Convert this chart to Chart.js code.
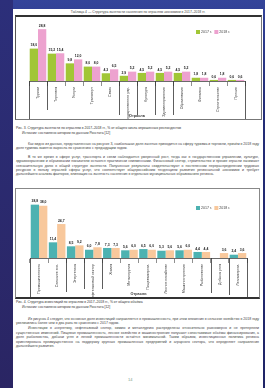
<!DOCTYPE html>
<html lang="ru">
<head>
<meta charset="utf-8">
<script src="https://cdn.jsdelivr.net/npm/chart.js@4.4.0/dist/chart.umd.min.js"></script>
<style>
html, body { margin: 0; padding: 0; width: 265px; height: 388px; overflow: hidden; }
body {
    position: relative;
    background: linear-gradient(180deg, #34449a 0%, #242d78 25%, #1f2466 100%);
    font-family: "Liberation Sans", Arial, sans-serif;
}
.strip { position: absolute; left: 0; top: 0; width: 13px; height: 388px; background: linear-gradient(180deg, #2c2f7a, #2a2563); }
.page { position: absolute; left: 13px; top: 9px; width: 250px; height: 379px; background: #fff; }
.head { position: absolute; left: 0; top: 0.5px; width: 250px; text-align: center; font-size: 3.4px; color: #444; white-space: nowrap; }
.box { position: absolute; background: #fff; }
.box canvas { display: block; }
#box1 { left: 2px; top: 6px; border: 1px solid #777; border-top: 2px solid #333; border-left: 1px solid #555; }
#box2 { left: 2px; top: 179px; border: 1px solid #888; border-bottom: 2px solid #333; }
.cap { position: absolute; left: 3px; font-size: 3.4px; line-height: 4.4px; color: #333; white-space: nowrap; }
.par { position: absolute; left: 3px; width: 243px; font-size: 3.5px; line-height: 4.4px; color: #444; text-align: justify; }
.par p { margin: 0; text-indent: 12px; }
.pnum { position: absolute; left: 115px; top: 368px; font-size: 4px; color: #7a9a8a; }
</style>
</head>
<body>
<div class="strip"></div>
<div class="page">
    <div class="head">Таблица 4 — Структура занятости населения по отраслям экономики в 2017–2018 гг.</div>

    <div class="box" id="box1"><canvas id="chart1" width="245" height="102"></canvas></div>

    <div class="cap" style="top:117px">Рис. 3. Структура занятости по отраслям в 2017–2018 гг., % от общего числа опрошенных респондентов</div>
    <div class="cap" style="top:121.5px; left:9px">Источник: составлено автором по данным Росстата [12]</div>

    <div class="par" style="top:133px">
        <p>Как видно из данных, представленных на рисунке 3, наибольшая доля занятых приходится на сферу туризма и торговли, причём в 2018 году доля туризма заметно выросла по сравнению с предыдущим годом.</p>
        <p style="margin-top:4px">В то же время в сфере услуг, транспорта и связи наблюдается умеренный рост, тогда как в государственном управлении, культуре, здравоохранении и образовании показатели остаются практически неизменными. Финансовый сектор, строительство и прочие отрасли занимают незначительную долю в общей структуре занятости. Полученные результаты свидетельствуют о постепенном перераспределении трудовых ресурсов в пользу отраслей сферы услуг, что соответствует общероссийским тенденциям развития региональной экономики и требует дальнейшего анализа факторов, влияющих на занятость населения в отдельных муниципальных образованиях региона.</p>
    </div>

    <div class="box" id="box2"><canvas id="chart2" width="243" height="108"></canvas></div>

    <div class="cap" style="top:291px">Рис. 4. Структура инвестиций по отраслям в 2017–2018 гг., % от общего объёма</div>
    <div class="cap" style="top:295.5px; left:9px">Источник: составлено автором по данным Росстата [12]</div>

    <div class="par" style="top:308px">
        <p>Из рисунка 4 следует, что основная доля инвестиций направляется в промышленность, при этом вложения в сельское хозяйство в 2018 году увеличились более чем в два раза по сравнению с 2017 годом.</p>
        <p style="margin-top:0.5px">Инвестиции в энергетику, нефтегазовый сектор, химию и металлургию распределены относительно равномерно и не претерпели существенных изменений. Пищевая промышленность, лесное хозяйство и машиностроение получают сопоставимые объёмы финансирования, а доля рыболовства, добычи угля и легкой промышленности остаётся минимальной. Таким образом, инвестиционная политика региона ориентирована преимущественно на поддержку крупных промышленных предприятий и аграрного сектора, что определяет направления дальнейшего развития.</p>
    </div>

    <div class="pnum">14</div>
</div>

<script>
// рис. 3
const labels1 = ['Туризм', 'Торговля', 'Услуги', 'Транспорт', 'Связь', 'Государственное упр.',
    'Культура', 'Здравоохранение', 'Образование', 'Финансы', 'Строительство', 'Прочие'];
const year2017a = [18.0, 15.2, 9.8, 8.0, 4.3, 2.9, 4.5, 4.5, 4.5, 1.8, 0.6, 0.6];
const year2018a = [28.8, 15.4, 12.0, 8.0, 6.5, 5.2, 5.2, 5.2, 5.2, 1.8, 1.8, 0.6];

// рис. 4
const labels2 = ['Промышленность', 'Сельское хоз.', 'Энергетика', 'Нефтегазовый сектор', 'Химия',
    'Металлургия', 'Пищевая пром.', 'Лесное хозяйство', 'Машиностроение', 'Рыболовство', 'Добыча угля', 'Легкая пром.'];
const year2017b = [38.8, 11.4, 8.5, 6.0, 7.3, 5.6, 6.5, 5.3, 5.6, 4.4, null, 2.4];
const year2018b = [38.0, 24.7, 9.2, 7.8, 7.3, 6.0, 6.0, 5.6, 6.0, 4.4, 3.6, 3.6];

const seriesNames = ['2017 г.', '2018 г.'];

// value labels above the bars
const valueLabels = {
    id: 'valueLabels',
    afterDatasetsDraw(chart) {
        const ctx = chart.ctx;
        ctx.save();
        ctx.font = 'bold 3.4px "Liberation Sans", Arial';
        ctx.fillStyle = '#222';
        ctx.textAlign = 'center';
        ctx.textBaseline = 'bottom';
        chart.data.datasets.forEach((ds, i) => {
            chart.getDatasetMeta(i).data.forEach((bar, j) => {
                const v = ds.data[j];
                if (v == null) return;
                ctx.fillText(v.toFixed(1).replace('.', ','), bar.x, bar.y - 1.5);
            });
        });
        ctx.restore();
    }
};

// long separator lines under the category axis
const groupLines = {
    id: 'groupLines',
    afterDraw(chart, args, opts) {
        const x = chart.scales.x;
        const ctx = chart.ctx;
        ctx.save();
        ctx.strokeStyle = '#333';
        ctx.lineWidth = 0.8;
        opts.lines.forEach(([b, len]) => {
            const px = Math.round(x.getPixelForValue(b - 0.5)) + 0.5;
            ctx.beginPath();
            ctx.moveTo(px, x.top);
            ctx.lineTo(px, x.top + len);
            ctx.stroke();
        });
        ctx.restore();
    }
};

// legend inside the plot, top right (items come from the chart's own legend)
const insideLegend = {
    id: 'insideLegend',
    afterDraw(chart, args, opts) {
        const items = chart.options.plugins.legend.labels.generateLabels(chart);
        const ctx = chart.ctx;
        ctx.save();
        ctx.font = '3.6px "Liberation Sans", Arial';
        ctx.textBaseline = 'middle';
        let x = opts.x;
        items.forEach(item => {
            ctx.fillStyle = item.fillStyle;
            ctx.fillRect(x, opts.y - 2, 4, 4);
            x += 5;
            ctx.fillStyle = '#444';
            ctx.fillText(item.text, x, opts.y);
            x += ctx.measureText(item.text).width + 2.5;
        });
        ctx.restore();
    }
};

function makeChart(id, labels, a, b, colors, pad, axisHeight, yMax, lines, legendPos) {
    return new Chart(document.getElementById(id), {
        type: 'bar',
        data: {
            labels: labels,
            datasets: [
                { label: seriesNames[0], data: a, backgroundColor: colors[0], barPercentage: 1.0, categoryPercentage: 0.92 },
                { label: seriesNames[1], data: b, backgroundColor: colors[1], barPercentage: 1.0, categoryPercentage: 0.92 }
            ]
        },
        options: {
            responsive: false,
            animation: false,
            devicePixelRatio: 1,
            layout: { padding: pad },
            plugins: {
                legend: { display: false },
                tooltip: { enabled: false },
                groupLines: { lines: lines },
                insideLegend: legendPos
            },
            scales: {
                x: {
                    grid: { offset: true, drawOnChartArea: false, tickLength: 5, color: '#444', lineWidth: 0.6 },
                    border: { display: true, color: '#444', width: 0.8 },
                    ticks: {
                        autoSkip: false,
                        maxRotation: 90,
                        minRotation: 90,
                        padding: 1,
                        color: '#333',
                        font: { size: 3.6, family: '"Liberation Sans", Arial' }
                    },
                    title: {
                        display: true,
                        text: 'Отрасль',
                        color: '#333',
                        padding: 1,
                        font: { size: 3.8, weight: 'bold', family: '"Liberation Sans", Arial' }
                    },
                    afterFit(scale) { scale.height = axisHeight; }
                },
                y: { display: false, min: 0, max: yMax }
            }
        },
        plugins: [valueLabels, groupLines, insideLegend]
    });
}

makeChart('chart1', labels1, year2017a, year2018a, ['#a1c636', '#eda2cf'],
    { left: 13, right: 16, top: 10, bottom: 0 }, 38, 30,
    [[0, 38], [1, 29], [5, 34], [6, 34], [7, 34], [8, 34], [12, 38]],
    { x: 180, y: 15 });

makeChart('chart2', labels2, year2017b, year2018b, ['#4db2b1', '#f8c89c'],
    { left: 14, right: 12, top: 14, bottom: 0 }, 39, 40,
    [[0, 39], [2, 34], [3, 31], [4, 31], [10, 35], [11, 37], [12, 39]],
    { x: 180, y: 19 });
</script>
</body>
</html>
